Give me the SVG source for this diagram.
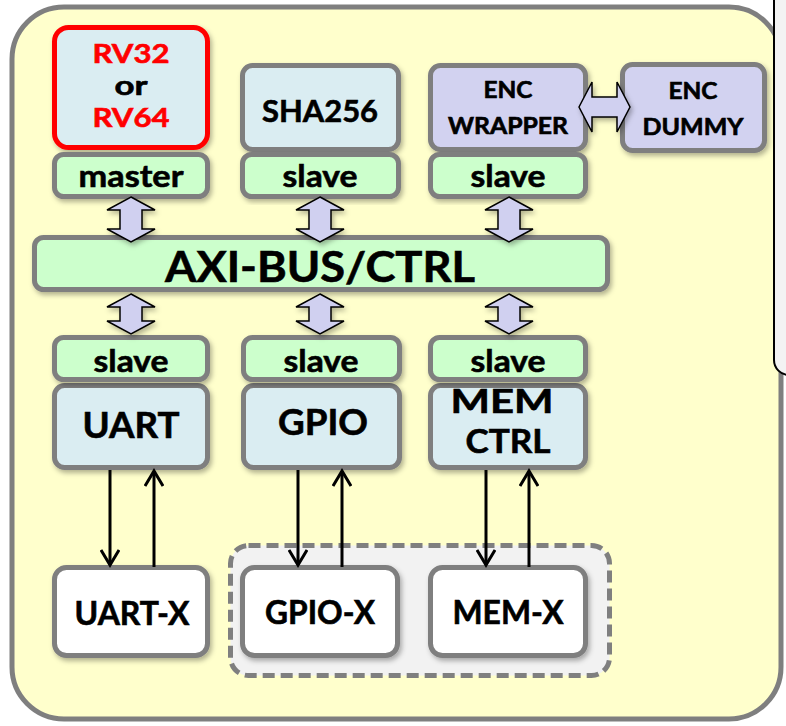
<svg xmlns="http://www.w3.org/2000/svg" width="786" height="726" viewBox="0 0 786 726">
<defs>
<filter id="sh" x="-20%" y="-20%" width="140%" height="140%">
<feDropShadow dx="2" dy="3" stdDeviation="2.5" flood-color="#000" flood-opacity="0.3"/>
</filter>
<marker id="ah" viewBox="0 0 20 20" refX="17" refY="10" markerWidth="20" markerHeight="20" markerUnits="userSpaceOnUse" orient="auto">
<path d="M2,1 L17,10 L2,19" fill="none" stroke="#000" stroke-width="3"/>
</marker>
<style>
.t{font-family:Lato,"Open Sans","Liberation Sans",sans-serif;font-weight:bold;fill:#000;stroke:#000;stroke-width:0.6;text-anchor:middle}
.red{fill:#ff0000;stroke:#ff0000}
.box{stroke:#7f7f7f;stroke-width:5}
.blue{fill:#daedf2}
.grn{fill:#ccffcc}
.lav{fill:#d2d2f0}
.wht{fill:#ffffff}
.barrow{fill:#d0d0f0;stroke:#000;stroke-width:1.5;stroke-linejoin:miter}
.thin{stroke:#000;stroke-width:3;fill:none}
</style>
</defs>
<rect x="12" y="7" width="769" height="712" rx="52" fill="#ffffcc" stroke="#7f7f7f" stroke-width="5"/>
<path d="M774,-5 V360 A15,15 0 0 0 789,375 H800 V-5 Z" fill="#f3f3f3" stroke="#000" stroke-width="2"/>

<g id="ext-group">
<rect x="230.5" y="545.5" width="379" height="130" rx="18" fill="#f2f2f2" stroke="#7f7f7f" stroke-width="5" stroke-dasharray="12,6"/>
</g>

<g id="rv" filter="url(#sh)">
<rect x="54.5" y="154.5" width="153" height="42" rx="9" class="box grn"/>
<rect x="54.5" y="27.5" width="153" height="120" rx="14" class="blue" stroke="#ff0000" stroke-width="5"/>
</g>
<g id="rv-text">
<text class="t red" x="131" y="63" font-size="26.5" textLength="77" lengthAdjust="spacingAndGlyphs">RV32</text>
<text class="t" x="131" y="95" font-size="26.5" textLength="33" lengthAdjust="spacingAndGlyphs">or</text>
<text class="t red" x="131" y="127" font-size="26.5" textLength="77" lengthAdjust="spacingAndGlyphs">RV64</text>
<text class="t" x="131" y="187" font-size="31" textLength="105" lengthAdjust="spacingAndGlyphs">master</text>
</g>

<g id="sha256">
<rect x="242.5" y="65.5" width="156" height="84" rx="10" class="box blue" filter="url(#sh)"/>
<rect x="242.5" y="154.5" width="156" height="42" rx="9" class="box grn" filter="url(#sh)"/>
<text class="t" x="320" y="122" font-size="31" textLength="116" lengthAdjust="spacingAndGlyphs">SHA256</text>
<text class="t" x="320" y="187" font-size="31" textLength="75" lengthAdjust="spacingAndGlyphs">slave</text>
</g>

<g id="enc-wrapper">
<rect x="430.5" y="65.5" width="155" height="84" rx="10" class="box lav" filter="url(#sh)"/>
<rect x="430.5" y="154.5" width="155" height="42" rx="9" class="box grn" filter="url(#sh)"/>
<text class="t" x="508" y="98" font-size="22" textLength="49" lengthAdjust="spacingAndGlyphs">ENC</text>
<text class="t" x="508" y="134" font-size="22" textLength="120" lengthAdjust="spacingAndGlyphs">WRAPPER</text>
<text class="t" x="508" y="187" font-size="31" textLength="75" lengthAdjust="spacingAndGlyphs">slave</text>
</g>

<g id="enc-dummy">
<rect x="622.5" y="64.5" width="142" height="86" rx="10" class="box lav" filter="url(#sh)"/>
<text class="t" x="693" y="99" font-size="22" textLength="49" lengthAdjust="spacingAndGlyphs">ENC</text>
<text class="t" x="693" y="135" font-size="22" textLength="101" lengthAdjust="spacingAndGlyphs">DUMMY</text>
</g>

<g id="axi-bus">
<rect x="34.5" y="237.5" width="573" height="52" rx="9" class="box grn" filter="url(#sh)"/>
<text class="t" x="320" y="282" font-size="42" textLength="310" lengthAdjust="spacingAndGlyphs">AXI-BUS/CTRL</text>
</g>

<g id="uart">
<rect x="54.5" y="385.5" width="153" height="82" rx="10" class="box blue" filter="url(#sh)"/>
<rect x="54.5" y="337.5" width="153" height="42" rx="9" class="box grn" filter="url(#sh)"/>
<text class="t" x="131" y="372" font-size="31" textLength="75" lengthAdjust="spacingAndGlyphs">slave</text>
<text class="t" x="131" y="438" font-size="36" textLength="97" lengthAdjust="spacingAndGlyphs">UART</text>
</g>

<g id="gpio">
<rect x="243.5" y="385.5" width="156" height="82" rx="10" class="box blue" filter="url(#sh)"/>
<rect x="243.5" y="337.5" width="156" height="42" rx="9" class="box grn" filter="url(#sh)"/>
<text class="t" x="321" y="372" font-size="31" textLength="75" lengthAdjust="spacingAndGlyphs">slave</text>
<text class="t" x="323" y="435" font-size="36" textLength="90" lengthAdjust="spacingAndGlyphs">GPIO</text>
</g>

<g id="memctrl">
<rect x="430.5" y="385.5" width="155" height="82" rx="10" class="box blue" filter="url(#sh)"/>
<rect x="430.5" y="337.5" width="155" height="42" rx="9" class="box grn" filter="url(#sh)"/>
<text class="t" x="508" y="372" font-size="31" textLength="75" lengthAdjust="spacingAndGlyphs">slave</text>
<text class="t" x="502" y="413" font-size="33" textLength="103" lengthAdjust="spacingAndGlyphs">MEM</text>
<text class="t" x="508" y="453" font-size="33" textLength="85" lengthAdjust="spacingAndGlyphs">CTRL</text>
</g>

<g id="uart-x">
<rect x="54.5" y="567.5" width="153" height="88" rx="12" class="box wht" filter="url(#sh)"/>
<text class="t" x="132" y="625" font-size="32" textLength="115" lengthAdjust="spacingAndGlyphs">UART-X</text>
</g>

<g id="gpio-x">
<rect x="242.5" y="567.5" width="155" height="88" rx="12" class="box wht" filter="url(#sh)"/>
<text class="t" x="320" y="624" font-size="32" textLength="110" lengthAdjust="spacingAndGlyphs">GPIO-X</text>
</g>

<g id="mem-x">
<rect x="430.5" y="567.5" width="155" height="88" rx="12" class="box wht" filter="url(#sh)"/>
<text class="t" x="508" y="624" font-size="32" textLength="111" lengthAdjust="spacingAndGlyphs">MEM-X</text>
</g>

<g id="connectors">
<g filter="url(#sh)">
<path class="barrow" d="M131,197 L155,210 L142,210 L142,229 L155,229 L131,242 L107,229 L120,229 L120,210 L107,210 Z"/>
<path class="barrow" d="M320,197 L344,210 L331,210 L331,229 L344,229 L320,242 L296,229 L309,229 L309,210 L296,210 Z"/>
<path class="barrow" d="M509,197 L533,210 L520,210 L520,229 L533,229 L509,242 L485,229 L498,229 L498,210 L485,210 Z"/>
<path class="barrow" d="M131,294 L155,307 L142,307 L142,321 L155,321 L131,334 L107,321 L120,321 L120,307 L107,307 Z"/>
<path class="barrow" d="M320,294 L344,307 L331,307 L331,321 L344,321 L320,334 L296,321 L309,321 L309,307 L296,307 Z"/>
<path class="barrow" d="M509,294 L533,307 L520,307 L520,321 L533,321 L509,334 L485,321 L498,321 L498,307 L485,307 Z"/>
<path class="barrow" d="M579,107 L592,82 L592,97 L617,97 L617,82 L630,107 L617,132 L617,117 L592,117 L592,132 Z"/>
</g>
<line class="thin" x1="110" y1="470" x2="110" y2="565" marker-end="url(#ah)"/>
<line class="thin" x1="154" y1="567" x2="154" y2="471" marker-end="url(#ah)"/>
<line class="thin" x1="298" y1="470" x2="298" y2="565" marker-end="url(#ah)"/>
<line class="thin" x1="342" y1="567" x2="342" y2="471" marker-end="url(#ah)"/>
<line class="thin" x1="486" y1="470" x2="486" y2="565" marker-end="url(#ah)"/>
<line class="thin" x1="529" y1="567" x2="529" y2="471" marker-end="url(#ah)"/>
</g>
</svg>
